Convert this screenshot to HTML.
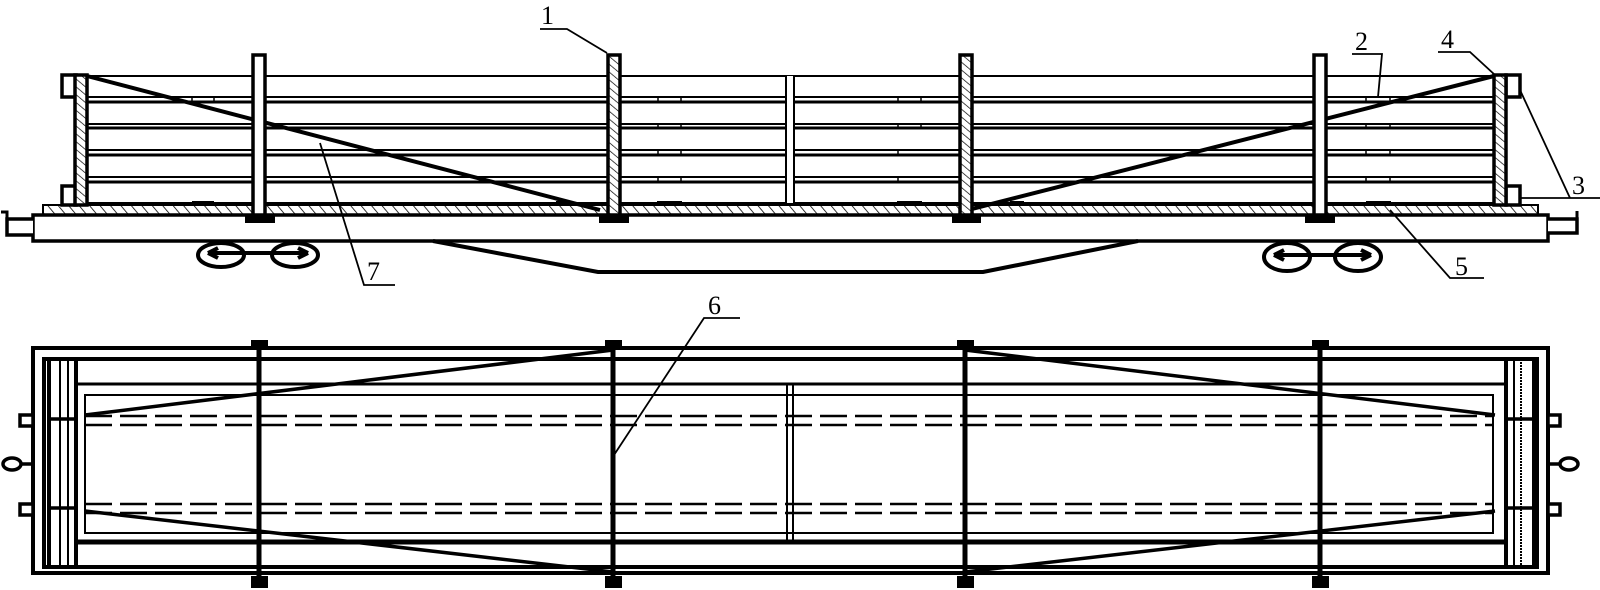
<!DOCTYPE html>
<html><head><meta charset="utf-8"><style>
html,body{margin:0;padding:0;background:#fff;}
svg{display:block}
text{font-family:"Liberation Serif",serif;font-size:26px;fill:#000}
</style></head><body>
<svg width="1600" height="590" viewBox="0 0 1600 590" xmlns="http://www.w3.org/2000/svg">
<defs>
<pattern id="h" width="8" height="8" patternUnits="userSpaceOnUse" patternTransform="rotate(-40)">
<rect width="8" height="8" fill="#fff"/><line x1="0" y1="0" x2="0" y2="8" stroke="#000" stroke-width="1.6"/>
</pattern>
<pattern id="hv" width="6" height="8" patternUnits="userSpaceOnUse" patternTransform="rotate(-50)">
<rect width="6" height="8" fill="#fff"/><line x1="0" y1="0" x2="0" y2="8" stroke="#000" stroke-width="1.4"/>
</pattern>
</defs>
<g fill="none" stroke="#000">
<g stroke-width="2">
<line x1="88" y1="76" x2="1493" y2="76"/>
<line x1="88" y1="97" x2="1493" y2="97"/><line x1="88" y1="102" x2="1493" y2="102" stroke-width="3"/>
<line x1="88" y1="124" x2="1493" y2="124"/><line x1="88" y1="128" x2="1493" y2="128" stroke-width="3"/>
<line x1="88" y1="150" x2="1493" y2="150"/><line x1="88" y1="155" x2="1493" y2="155" stroke-width="3"/>
<line x1="88" y1="177" x2="1493" y2="177"/><line x1="88" y1="182" x2="1493" y2="182" stroke-width="3"/>
<line x1="88" y1="203" x2="1493" y2="203"/>
</g>
<rect x="785" y="76" width="10" height="127" fill="#fff" stroke="none"/>
<g stroke-width="2">
<line x1="786" y1="76" x2="786" y2="203"/><line x1="794" y1="76" x2="794" y2="203"/>
</g>
<g stroke-width="1.5">
<line x1="192" y1="97" x2="192" y2="102"/><line x1="214" y1="97" x2="214" y2="102"/>
<line x1="658" y1="97" x2="658" y2="102"/><line x1="681" y1="97" x2="681" y2="102"/>
<line x1="658" y1="124" x2="658" y2="128"/><line x1="681" y1="124" x2="681" y2="128"/>
<line x1="658" y1="150" x2="658" y2="155"/><line x1="681" y1="150" x2="681" y2="155"/>
<line x1="658" y1="177" x2="658" y2="182"/><line x1="681" y1="177" x2="681" y2="182"/>
<line x1="898" y1="97" x2="898" y2="102"/><line x1="921" y1="97" x2="921" y2="102"/>
<line x1="898" y1="124" x2="898" y2="128"/><line x1="921" y1="124" x2="921" y2="128"/>
<line x1="898" y1="150" x2="898" y2="155"/><line x1="898" y1="177" x2="898" y2="182"/>
<line x1="1366" y1="97" x2="1366" y2="102"/><line x1="1390" y1="97" x2="1390" y2="102"/>
<line x1="1366" y1="124" x2="1366" y2="128"/><line x1="1390" y1="124" x2="1390" y2="128"/>
<line x1="1366" y1="150" x2="1366" y2="155"/><line x1="1390" y1="150" x2="1390" y2="155"/>
<line x1="1366" y1="177" x2="1366" y2="182"/><line x1="1390" y1="177" x2="1390" y2="182"/>
</g>
<g fill="#000" stroke="none">
<rect x="192" y="201" width="22" height="5"/><rect x="556" y="201" width="14" height="5"/>
<rect x="657" y="201" width="25" height="5"/><rect x="897" y="201" width="25" height="5"/>
<rect x="1010" y="201" width="14" height="5"/><rect x="1366" y="201" width="25" height="5"/>
</g>
<rect x="43" y="205" width="1495" height="10" fill="url(#h)" stroke-width="2"/>
<line x1="43" y1="215" x2="1538" y2="215" stroke-width="3"/>
<rect x="33" y="215" width="1515" height="26" fill="#fff" stroke-width="3.5"/>
<path d="M33 219 H7 V235 H33" stroke-width="3.5" fill="#fff"/>
<path d="M7 219 V212 H1" stroke-width="3"/>
<path d="M1548 219 H1577 V233 H1548" stroke-width="3.5" fill="#fff"/>
<path d="M1577 219 V211" stroke-width="3"/>
<path d="M433 241 L598 272 L983 272 L1138 241" stroke-width="4"/>
<rect x="62" y="75" width="14" height="22" stroke-width="3.5" fill="#fff"/>
<rect x="62" y="186" width="14" height="19" stroke-width="3.5" fill="#fff"/>
<rect x="75" y="75" width="12" height="130" fill="url(#hv)" stroke-width="3.5"/>
<rect x="1506" y="75" width="14" height="22" stroke-width="3.5" fill="#fff"/>
<rect x="1506" y="186" width="14" height="19" stroke-width="3.5" fill="#fff"/>
<rect x="1494" y="75" width="12" height="130" fill="url(#hv)" stroke-width="3.5"/>
<line x1="87" y1="76" x2="600" y2="210" stroke-width="4"/>
<line x1="1494" y1="76" x2="960" y2="212" stroke-width="4"/>
<g stroke-width="3.5">
<rect x="253" y="55" width="12" height="160" fill="#fff"/>
<rect x="608" y="55" width="12" height="160" fill="url(#hv)"/>
<rect x="960" y="55" width="12" height="160" fill="url(#hv)"/>
<rect x="1314" y="55" width="12" height="160" fill="#fff"/>
</g>
<g fill="#000" stroke="none">
<rect x="245" y="214" width="30" height="9"/><rect x="599" y="214" width="30" height="9"/>
<rect x="952" y="214" width="29" height="9"/><rect x="1305" y="214" width="30" height="9"/>
</g>
<g stroke-width="4">
<ellipse cx="221" cy="255" rx="23" ry="12"/><ellipse cx="295" cy="255" rx="23" ry="12"/>
<path d="M208 253 H308 M208 253 l10 -5 M208 253 l10 5 M308 253 l-10 -5 M308 253 l-10 5"/>
<ellipse cx="1287" cy="257" rx="23" ry="14"/><ellipse cx="1358" cy="257" rx="23" ry="14"/>
<path d="M1274 255 H1371 M1274 255 l10 -5 M1274 255 l10 5 M1371 255 l-10 -5 M1371 255 l-10 5"/>
</g>
<g stroke-width="1.8">
<path d="M540 29 H567 L607 53"/>
<path d="M1352 54 H1382 L1378 97"/>
<path d="M1438 52 H1470 L1495 75"/>
<path d="M1520 90 L1570 198 M1520 198 H1600"/>
<path d="M1390 210 L1450 278 H1484"/>
<path d="M320 143 L364 285 H395"/>
</g>
<!-- TOP VIEW -->
<rect x="33" y="348" width="1515" height="225" stroke-width="4" fill="#fff"/>
<rect x="44" y="359" width="1493" height="208" stroke-width="4"/>
<g stroke-width="4">
<line x1="49" y1="359" x2="49" y2="567"/><line x1="76" y1="359" x2="76" y2="567"/>
<line x1="1506" y1="359" x2="1506" y2="567"/><line x1="1534" y1="359" x2="1534" y2="567"/>
</g>
<g stroke-width="2">
<line x1="60" y1="359" x2="60" y2="567"/><line x1="68" y1="359" x2="68" y2="567"/>
<line x1="1514" y1="359" x2="1514" y2="567"/><line x1="1521" y1="359" x2="1521" y2="567" stroke-dasharray="2 1"/>
</g>
<line x1="76" y1="384" x2="1506" y2="384" stroke-width="3"/>
<line x1="76" y1="542" x2="1506" y2="542" stroke-width="5"/>
<rect x="85" y="395" width="1408" height="138" stroke-width="2"/>
<line x1="787" y1="384" x2="787" y2="542" stroke-width="2"/><line x1="793" y1="384" x2="793" y2="542" stroke-width="2"/>
<g stroke-width="2.5" stroke-dasharray="27 8">
<line x1="85" y1="416" x2="1493" y2="416"/><line x1="85" y1="425" x2="1493" y2="425"/>
<line x1="85" y1="504" x2="1493" y2="504"/><line x1="85" y1="513" x2="1493" y2="513"/>
</g>
<g stroke-width="3.5">
<line x1="85" y1="415" x2="613" y2="350"/><line x1="85" y1="511" x2="613" y2="572"/>
<line x1="965" y1="350" x2="1495" y2="415"/><line x1="965" y1="572" x2="1495" y2="511"/>
</g>
<g stroke-width="5">
<line x1="259" y1="340" x2="259" y2="588"/><line x1="613" y1="340" x2="613" y2="588"/>
<line x1="965" y1="340" x2="965" y2="588"/><line x1="1320" y1="340" x2="1320" y2="588"/>
</g>
<g fill="#000" stroke="none">
<rect x="251" y="340" width="17" height="10"/><rect x="251" y="576" width="17" height="12"/>
<rect x="605" y="340" width="17" height="10"/><rect x="605" y="576" width="17" height="12"/>
<rect x="957" y="340" width="17" height="10"/><rect x="957" y="576" width="17" height="12"/>
<rect x="1312" y="340" width="17" height="10"/><rect x="1312" y="576" width="17" height="12"/>
</g>
<g stroke-width="3.5" fill="#fff">
<rect x="20" y="415" width="13" height="11"/><rect x="20" y="504" width="13" height="11"/>
<rect x="1548" y="415" width="12" height="11"/><rect x="1548" y="504" width="12" height="11"/>
<line x1="49" y1="419" x2="76" y2="419"/><line x1="49" y1="508" x2="76" y2="508"/>
<line x1="1506" y1="419" x2="1534" y2="419"/><line x1="1506" y1="508" x2="1534" y2="508"/>
<line x1="22" y1="464" x2="33" y2="464"/><ellipse cx="12" cy="464" rx="9" ry="6"/>
<line x1="1548" y1="464" x2="1560" y2="464"/><ellipse cx="1569" cy="464" rx="9" ry="6"/>
</g>
<path d="M740 318 H704 L614 455" stroke-width="1.8"/>
</g>
<text x="541" y="24">1</text>
<text x="1355" y="50">2</text>
<text x="1441" y="48">4</text>
<text x="1572" y="194">3</text>
<text x="1455" y="275">5</text>
<text x="367" y="280">7</text>
<text x="708" y="314">6</text>
</svg>
</body></html>
